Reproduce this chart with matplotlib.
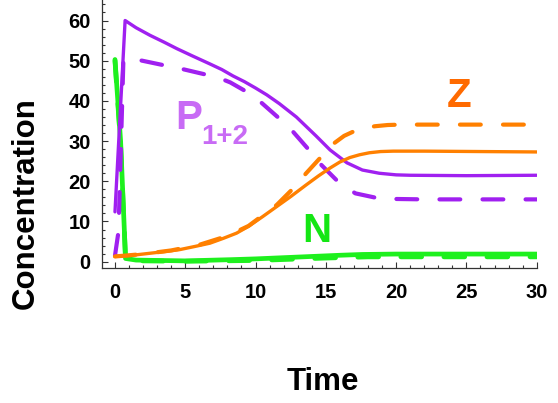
import matplotlib
matplotlib.use("Agg")
import matplotlib.pyplot as plt
from matplotlib.ticker import MultipleLocator

plt.rcParams["font.family"] = ["Liberation Sans", "DejaVu Sans"]
plt.rcParams["font.weight"] = "bold"
plt.rcParams["lines.scale_dashes"] = False

# --- values ---
t_p_solid = [0, 0.72, 1.5, 2.5, 3.5, 4.4, 5.5, 6.75, 7.6, 8.4, 9.2, 10.0, 10.8, 11.7,
             12.9, 14.3, 15.3, 16.5, 17.6, 18.8, 20.0, 21.0, 25.0, 30.0]
p_solid = [12.4, 60.0, 58.2, 56.3, 54.6, 53.0, 51.2, 49.2, 47.8, 46.2, 44.8, 43.2, 41.5, 39.3,
           36.0, 31.3, 27.8, 24.6, 22.8, 22.0, 21.6, 21.5, 21.4, 21.5]

t_p_dash = [0, 0.25, 0.6, 1.0, 1.8, 3.3, 4.7, 6.4, 7.7, 8.2, 9.2, 10.4, 11.6, 12.7, 13.7,
            14.7, 15.9, 17.1, 18.7, 20.0, 22.0, 30.0]
p_dash = [1.5, 7.5, 50.4, 50.6, 50.1, 49.0, 48.0, 46.6, 45.3, 44.6, 42.6, 39.6, 35.9, 32.2, 28.2,
          24.0, 19.8, 17.0, 15.8, 15.6, 15.5, 15.5]

t_z_solid = [0, 1, 2.25, 3.5, 4.6, 5.7, 6.75, 7.7, 8.65, 9.5, 10.5, 11.5, 12.5, 13.6, 14.5,
             15.3, 16.0, 16.7, 17.4, 18.1, 18.9, 19.8, 22.0, 26.0, 30.0]
z_solid = [1.3, 1.5, 2.0, 2.5, 3.0, 3.8, 4.6, 5.8, 7.1, 8.8, 11.2, 13.7, 16.2, 19.1, 21.4,
           23.3, 24.8, 25.9, 26.6, 27.1, 27.4, 27.5, 27.5, 27.4, 27.3]

t_z_dash = [0, 2, 4, 6, 8, 9.5, 10.5, 11.5, 12.7, 13.6, 14.7, 15.6, 16.3, 17.1, 17.8, 18.5,
            19.4, 20.3, 30.0]
z_dash = [1.3, 1.9, 2.8, 4.2, 6.4, 8.9, 11.5, 14.1, 18.3, 22.0, 26.2, 29.5, 31.3, 32.6, 33.3,
          33.7, 34.0, 34.1, 34.1]

t_n_solid = [0, 0.4, 0.75, 1.5, 5, 8.2, 10, 12, 14, 16, 17.6, 20, 25, 30]
n_solid = [50.3, 30.0, 0.8, 0.4, 0.2, 0.5, 0.7, 1.0, 1.3, 1.6, 1.8, 1.9, 1.9, 1.9]

t_n_dash = [0, 0.4, 0.75, 2, 5, 10, 15, 18, 30]
n_dash = [50.0, 29.0, 0.8, 0.2, 0.1, 0.3, 0.9, 1.2, 1.2]

C_P = "#A020F0"
C_Z = "#FF8000"
C_N = "#1EF01E"

fig = plt.figure(figsize=(5.58, 4.03), dpi=100)
ax = fig.add_axes([101.7 / 558, (403 - 268) / 403, (536.7 - 101.7) / 558, 268 / 403])

dash = (15, 16)
ax.plot(t_n_solid, n_solid, color=C_N, lw=3.4, solid_capstyle="round",
        solid_joinstyle="round", zorder=2)
ax.plot(t_n_dash, n_dash, color=C_N, lw=3.4, dashes=dash, dash_capstyle="round", zorder=2)
ax.plot(t_p_solid, p_solid, color=C_P, lw=2.4, solid_capstyle="round",
        solid_joinstyle="round", zorder=3)
ax.plot(t_p_dash, p_dash, color=C_P, lw=3.0, dashes=dash, dash_capstyle="round", zorder=3)
ax.plot(t_z_solid, z_solid, color=C_Z, lw=2.4, solid_capstyle="round",
        solid_joinstyle="round", zorder=4)
ax.plot(t_z_dash, z_dash, color=C_Z, lw=3.0, dashes=dash, dash_capstyle="round", zorder=4)

ax.text(5.26, 35.7, "P", color="#C86BF5", fontsize=29, fontweight="bold",
        ha="center", va="center")
ax.text(7.8, 30.9, "1+2", color="#C86BF5", fontsize=20, fontweight="bold",
        ha="center", va="center")
ax.text(24.45, 41.1, "Z", color="#FF6A00", fontsize=29, fontweight="bold",
        ha="center", va="center")
ax.text(14.38, 7.6, "N", color="#14E614", fontsize=29, fontweight="bold",
        ha="center", va="center")

ax.set_xlim(-0.945, 30)
ax.set_ylim(-1.57, 65.1)
ax.xaxis.set_major_locator(MultipleLocator(5))
ax.xaxis.set_minor_locator(MultipleLocator(1))
ax.yaxis.set_major_locator(MultipleLocator(10))
ax.yaxis.set_minor_locator(MultipleLocator(2))
for sp in ("top", "right"):
    ax.spines[sp].set_visible(False)
for sp in ("left", "bottom"):
    ax.spines[sp].set_color("#333333")
    ax.spines[sp].set_linewidth(0.9)
ax.tick_params(which="both", direction="in", colors="#333333", width=0.8)
ax.tick_params(which="major", length=4.5, labelsize=14.5, labelcolor="black")
ax.tick_params(which="minor", length=2.5)
ax.tick_params(axis="x", which="major", pad=10.5)
ax.tick_params(axis="y", which="major", pad=8)
for lab in ax.get_xticklabels() + ax.get_yticklabels():
    lab.set_fontweight("bold")

fig.text(323 / 558, (403 - 382) / 403, "Time", fontsize=22.5, fontweight="bold",
         ha="center", va="center")
fig.text(25.8 / 558, (403 - 203) / 403, "Concentration", fontsize=22.5, fontweight="bold",
         ha="center", va="center", rotation=90)

fig.savefig("out.png", dpi=100)
